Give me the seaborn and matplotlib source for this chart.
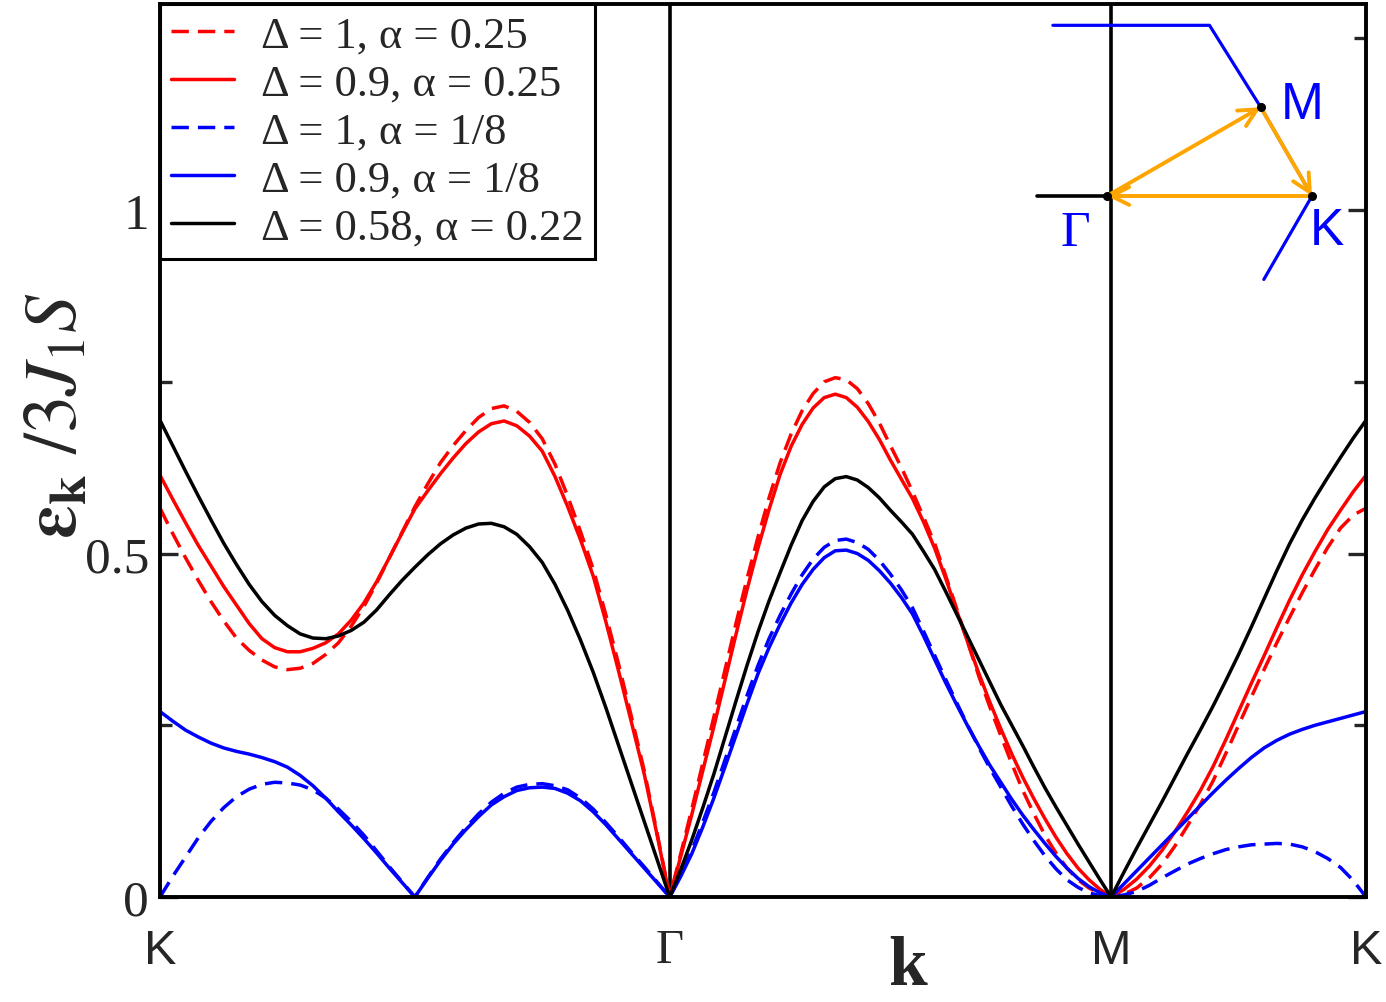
import numpy as np
import pandas as pd
import matplotlib
matplotlib.use("Agg")
import matplotlib.pyplot as plt
from matplotlib.lines import Line2D
import seaborn as sns

# fractions along each leg of the path K -> Gamma -> M -> K
t_kg = [0, .025, .05, .075, .1, .125, .15, .175, .2, .225, .25, .275, .3, .325, .35, .375,
        .4, .425, .45, .475, .5, .525, .55, .575, .6, .625, .65, .675, .7, .725, .75, .775,
        .8, .825, .85, .875, .9, .925, .95, .975, 1.0]
t_gm = list(t_kg)
t_mk = [0, .05, .1, .15, .2, .25, .3, .35, .4, .45, .5, .55, .6, .65, .7, .75, .8, .85,
        .9, .95, 1.0]

# leg lengths in reciprocal space
len_kg = 4 * np.pi / 3
len_gm = 2 * np.pi / np.sqrt(3)
len_mk = 2 * np.pi / 3

# Delta = 1, alpha = 0.25 (red dashed)
red_dash_kg = [.566, .529, .494, .461, .430, .402, .377, .359, .345, .335, .331, .333, .340,
               .353, .370, .394, .423, .457, .494, .531, .568, .601, .632, .657, .679, .698,
               .711, .715, .707, .691, .667, .630, .583, .532, .477, .410, .338, .262, .184,
               .094, 0]
red_dash_gm = [0, .063, .128, .195, .262, .330, .398, .463, .524, .581, .632, .674, .708,
               .733, .750, .756, .753, .740, .718, .690, .657, .625, .590, .553, .515, .468,
               .420, .371, .322, .277, .235, .194, .155, .121, .090, .064, .042, .025, .013,
               .005, 0]
red_dash_mk = [0, .004, .013, .028, .048, .074, .104, .135, .169, .209, .250, .291, .331,
               .370, .407, .443, .477, .509, .537, .556, .566]

# Delta = 0.9, alpha = 0.25 (red solid)
red_kg = [.614, .579, .545, .512, .482, .452, .425, .398, .376, .363, .357, .357, .362, .370,
          .383, .403, .428, .459, .494, .530, .565, .591, .616, .639, .660, .677, .689, .693,
          .686, .671, .649, .612, .568, .520, .467, .400, .328, .254, .179, .091, 0]
red_gm = [0, .059, .120, .184, .248, .315, .382, .447, .508, .564, .615, .656, .688, .712,
          .727, .732, .727, .713, .692, .666, .636, .608, .580, .546, .508, .464, .417, .371,
          .326, .284, .245, .208, .174, .143, .114, .087, .063, .042, .025, .011, 0]
red_mk = [0, .011, .026, .045, .068, .095, .124, .155, .190, .229, .270, .311, .351, .392,
          .432, .469, .503, .535, .563, .590, .614]

# Delta = 1, alpha = 1/8 (blue dashed)
blue_dash_kg = [0, .030, .058, .086, .110, .130, .146, .157, .164, .167, .166, .163, .156,
                .144, .128, .110, .090, .067, .044, .022, 0, .028, .055, .079, .101, .121,
                .138, .151, .160, .164, .165, .162, .156, .144, .128, .108, .087, .065, .044,
                .022, 0]
blue_dash_gm = [0, .032, .068, .109, .152, .199, .246, .293, .337, .376, .410, .441, .469,
                .492, .509, .519, .521, .516, .506, .490, .470, .447, .421, .387, .352, .317,
                .283, .250, .218, .188, .160, .132, .106, .082, .060, .041, .025, .014, .006,
                .002, 0]
blue_dash_mk = [0, .003, .008, .017, .028, .038, .048, .056, .063, .069, .073, .076, .077,
                .078, .077, .073, .066, .056, .043, .024, 0]

# Delta = 0.9, alpha = 1/8 (blue solid)
blue_kg = [.270, .256, .243, .233, .224, .217, .212, .208, .203, .197, .189, .177, .162, .144,
           .124, .105, .085, .064, .042, .021, 0, .027, .053, .077, .098, .117, .134, .146,
           .155, .159, .160, .158, .151, .140, .124, .105, .084, .063, .042, .021, 0]
blue_gm = [0, .030, .063, .102, .144, .189, .235, .281, .325, .363, .397, .428, .455, .477,
           .494, .504, .505, .500, .490, .475, .457, .436, .412, .380, .346, .312, .280, .249,
           .220, .192, .167, .142, .119, .098, .078, .059, .042, .027, .015, .006, 0]
blue_mk = [0, .019, .038, .057, .076, .095, .114, .133, .152, .170, .187, .203, .217, .228,
           .237, .244, .250, .255, .260, .265, .270]

# Delta = 0.58, alpha = 0.22 (black)
black_kg = [.694, .657, .620, .584, .549, .515, .484, .455, .430, .410, .395, .383, .377, .376,
            .380, .388, .400, .418, .440, .461, .480, .498, .514, .527, .537, .543, .544, .539,
            .528, .510, .487, .455, .417, .374, .327, .275, .220, .165, .110, .055, 0]
black_gm = [0, .040, .083, .130, .179, .232, .285, .337, .386, .431, .472, .512, .548, .576,
            .597, .609, .612, .607, .596, .581, .563, .546, .528, .503, .477, .445, .412, .379,
            .346, .313, .280, .250, .220, .189, .159, .131, .104, .077, .051, .025, 0]
black_mk = [0, .036, .071, .105, .139, .174, .209, .243, .278, .315, .353, .393, .434, .475,
            .514, .549, .581, .611, .640, .668, .694]

labels = ["Δ = 1, α = 0.25", "Δ = 0.9, α = 0.25", "Δ = 1, α = 1/8",
          "Δ = 0.9, α = 1/8", "Δ = 0.58, α = 0.22"]
colors = ["#ff0000", "#ff0000", "#0000ff", "#0000ff", "#000000"]
dashed = [True, False, True, False, False]
series = [(red_dash_kg, red_dash_gm, red_dash_mk),
          (red_kg, red_gm, red_mk),
          (blue_dash_kg, blue_dash_gm, blue_dash_mk),
          (blue_kg, blue_gm, blue_mk),
          (black_kg, black_gm, black_mk)]

k_path = np.concatenate([np.array(t_kg) * len_kg,
                         len_kg + np.array(t_gm[1:]) * len_gm,
                         len_kg + len_gm + np.array(t_mk[1:]) * len_mk])
total = len_kg + len_gm + len_mk

rows = []
for lab, (a, b, c) in zip(labels, series):
    e = list(a) + list(b[1:]) + list(c[1:])
    rows.append(pd.DataFrame({"k": k_path, "E": e, "curve": lab}))
df = pd.concat(rows, ignore_index=True)

sns.set_style("ticks")
plt.rcParams["font.family"] = ["Liberation Serif", "DejaVu Serif"]
plt.rcParams["mathtext.fontset"] = "stix"

DASH = (5.0, 2.6)
lw = 2.5

fig = plt.figure(figsize=(13.86, 10.03), dpi=100)
ax = fig.add_axes([160 / 1386, 1 - 898 / 1003, 1206 / 1386, 893 / 1003])

sns.lineplot(data=df, x="k", y="E", hue="curve", style="curve",
             palette=dict(zip(labels, colors)),
             dashes={l: (DASH if d else "") for l, d in zip(labels, dashed)},
             estimator=None, sort=False, lw=lw, legend=False, ax=ax)

ax.axvline(len_kg, color="black", lw=2.6, zorder=0)
ax.axvline(len_kg + len_gm, color="black", lw=2.6, zorder=0)

ax.set_xlim(0, total)
ax.set_ylim(0, 1.3)
ax.set_xticks([0, len_kg, len_kg + len_gm, total])
ax.set_xticklabels(["K", "Γ", "M", "K"])
for tl in ax.get_xticklabels():
    tl.set_fontfamily("Liberation Sans" if tl.get_text() != "Γ" else "Liberation Serif")
    tl.set_fontsize(35)
ax.tick_params(axis="x", length=0, pad=22)
ax.set_yticks([0, 0.5, 1])
ax.set_yticklabels(["0", "0.5", "1"], fontsize=37)
ax.set_yticks([0.25, 0.75, 1.25], minor=True)
ax.tick_params(axis="y", which="both", direction="in", left=True, right=True,
               width=2.4, pad=8)
ax.tick_params(axis="y", which="major", length=13)
ax.tick_params(axis="y", which="minor", length=8.5)
for sp in ax.spines.values():
    sp.set_linewidth(2.8)
    sp.set_color("black")
ax.set_xlabel("")
ax.set_ylabel(r"$\mathbf{\varepsilon_k}\ /\mathit{3}J_{\mathit{1}}S$", fontsize=54)
ax.yaxis.set_label_coords(-0.056, 0.54)
fig.text(908 / 1386, 1 - 968 / 1003, "k", fontsize=50, fontweight="bold",
         ha="center", va="center")

handles = [Line2D([], [], color=c, lw=lw, dashes=(DASH if d else (None, None)))
           for c, d in zip(colors, dashed)]
leg = ax.legend(handles, labels, loc="upper left", bbox_to_anchor=(0, 1),
                borderaxespad=0, fontsize=32, frameon=True, fancybox=False,
                framealpha=1, handlelength=1.42, handletextpad=0.6,
                labelspacing=0.18, borderpad=0.25)
leg.get_frame().set_edgecolor("black")
leg.get_frame().set_linewidth(2.2)

# inset: Brillouin zone sketch with the path
gx, gy = 1107, 197
px_unit = 205 / len_kg
box = (1000, 0, 1386, 300)
ins = fig.add_axes([box[0] / 1386, 1 - box[3] / 1003,
                    (box[2] - box[0]) / 1386, (box[3] - box[1]) / 1003])
ins.set_xlim((box[0] - gx) / px_unit, (box[2] - gx) / px_unit)
ins.set_ylim((gy - box[3]) / px_unit, (gy - box[1]) / px_unit)
ins.axis("off")
ins.patch.set_alpha(0)

G = np.array([0.0, 0.0])
K = np.array([len_kg, 0.0])
M = np.array([np.pi, np.pi / np.sqrt(3)])
K_up = np.array([len_kg / 2, len_kg * np.sqrt(3) / 2])
K_dn = np.array([len_kg / 2, -len_kg * np.sqrt(3) / 2])
low_end = K + 0.47 * (K_dn - K)
bz = np.array([[K_up[0] - 3.2, K_up[1] - 0.14], [K_up[0], K_up[1] - 0.14], M, K, low_end])
ins.plot(bz[:, 0], bz[:, 1], color="#0000ff", lw=2.3)
ins.plot([-1.43, 0], [0, 0], color="black", lw=2.6)
for a, b in [(G, M), (M, K), (K, G)]:
    ins.annotate("", xy=b, xytext=a,
                 arrowprops=dict(arrowstyle="->", color="#ffa500", lw=2.8,
                                 mutation_scale=32, shrinkA=0, shrinkB=0))
ins.plot([G[0], M[0], K[0]], [G[1], M[1], K[1]], "o", color="black", ms=5.5, zorder=5)
ins.text(M[0] + 0.4, M[1] + 0.05, "M", color="#0000ff", fontsize=37,
         family="Liberation Sans", ha="left", va="center")
ins.text(K[0] - 0.05, K[1] - 0.7, "K", color="#0000ff", fontsize=37,
         family="Liberation Sans", ha="left", va="center")
ins.text(G[0] - 0.65, G[1] - 0.75, "Γ", color="#0000ff", fontsize=37,
         family="Liberation Serif", ha="center", va="center")

fig.savefig("out.png", dpi=100)
